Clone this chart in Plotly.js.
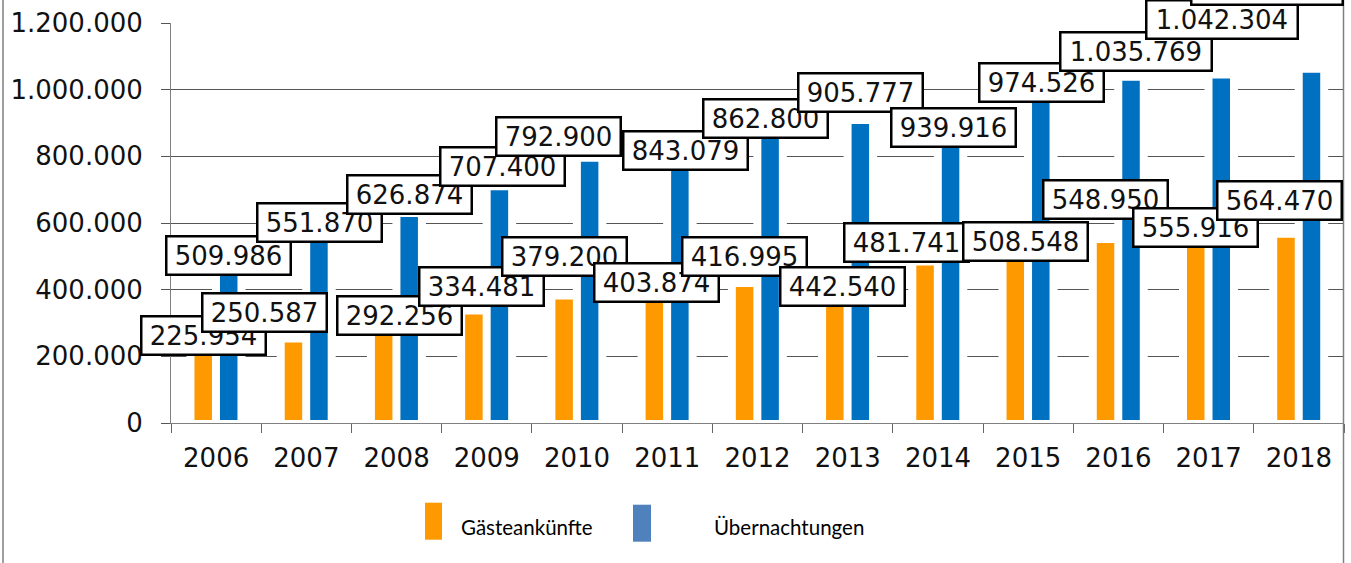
<!DOCTYPE html>
<html>
<head>
<meta charset="utf-8">
<script src="https://cdn.plot.ly/plotly-3.0.1.min.js"></script>
<style>
html,body{margin:0;padding:0;background:#fff;}
#chart{width:1351px;height:563px;}
</style>
</head>
<body>
<div id="chart"></div>
<script>
// ---- data ----
const years = ['2006','2007','2008','2009','2010','2011','2012','2013','2014','2015','2016','2017','2018'];
const gaeste = [225954, 250587, 292256, 334481, 379200, 403874, 416995, 442540, 481741, 508548, 548950, 555916, 564470];
const uebern = [509986, 551870, 626874, 707400, 792900, 843079, 862800, 905777, 939916, 974526, 1035769, 1042304, 1060000];
const yTicks = [0, 200000, 400000, 600000, 800000, 1000000, 1200000];
const seriesNames = ['Gästeankünfte', 'Übernachtungen'];

// ---- label placement (manually moved labels, in pixels) ----
const gShiftX = [-13.1, -42.3, 2.5, -5.7, -12.9, -10.6, -13.3, -5.5, -31.2, -2.4, -13.1, -13.3, -19];
const gShiftY = [12.5, 27.3, 10.4, 25.3, 40.4, 6.2, 27.8, -11.2, 20.2, 12.3, 40.3, 10.5, 34.6];
const uShiftX = [12.4, 12.7, 12.5, 15.3, -18.9, 17.9, 7.7, 12.5, 15.3, 13.1, 17.9, 13.7, -32];
const uShiftY = [-2.2, 16.8, 19.8, 21, 22, -8.7, 17.2, 28.4, -17.5, 15.5, 26, 56, 84.5];

const ORANGE = '#FF9900', BLUE = '#0070C0', LEG_BLUE = '#4F81BD';
const fmt = v => String(v).replace(/\B(?=(\d{3})+(?!\d))/g, '.');

const catPx = 1173 / 13;
const rectW = (17.5 + 6) / catPx;    // bar incl. white edge line
const haloW = (17.5 + 16) / catPx;   // white gap around bars
const gCenter = -12.9 / catPx, uCenter = 12.6 / catPx;

const traces = [
  {type:'bar', x:years, y:gaeste, width:haloW, offset:gCenter-haloW/2,
   marker:{color:'#ffffff'}, hoverinfo:'skip', showlegend:false},
  {type:'bar', x:years, y:uebern, width:haloW, offset:uCenter-haloW/2,
   marker:{color:'#ffffff'}, hoverinfo:'skip', showlegend:false},
  {type:'bar', name:seriesNames[0], x:years, y:gaeste, width:rectW, offset:gCenter-rectW/2,
   marker:{color:ORANGE, line:{color:'#ffffff', width:6}}, showlegend:false},
  {type:'bar', name:seriesNames[1], x:years, y:uebern, width:rectW, offset:uCenter-rectW/2,
   marker:{color:BLUE, line:{color:'#ffffff', width:6}}, showlegend:false}
];

const annFont = {family:'DejaVu Sans, Verdana, sans-serif', size:26, color:'#111111'};
function labelAnn(idx, v, dx, dy){
  const t = fmt(v);
  return {x:idx, y:v, xref:'x', yref:'y', text:t, showarrow:false,
    xanchor:'center', yanchor:'middle', xshift:dx, yshift:dy,
    width: t.length > 7 ? 145 : 118, height:32, borderpad:2,
    bgcolor:'#ffffff', bordercolor:'#000000', borderwidth:2.5, font:annFont};
}
const annotations = [];
years.forEach((yr,i)=>annotations.push(labelAnn(i, gaeste[i], gShiftX[i], gShiftY[i])));
years.forEach((yr,i)=>annotations.push(labelAnn(i, uebern[i], uShiftX[i], uShiftY[i])));

// custom legend
const px2x = p => (p - 171) / 1173;
const px2y = p => (423.3 - p) / 400;
const legFont = {family:'Lato, Noto Sans, sans-serif', size:20.5, color:'#000000'};
annotations.push({xref:'paper', yref:'paper', x:px2x(459), y:px2y(527), xanchor:'left', yanchor:'middle',
  text:seriesNames[0], showarrow:false, font:legFont});
annotations.push({xref:'paper', yref:'paper', x:px2x(712), y:px2y(527), xanchor:'left', yanchor:'middle',
  text:seriesNames[1], showarrow:false, font:legFont});

const shapes = [
  {type:'rect', xref:'paper', yref:'paper', x0:px2x(425), x1:px2x(442), y0:px2y(540), y1:px2y(503),
   fillcolor:ORANGE, line:{width:0}},
  {type:'rect', xref:'paper', yref:'paper', x0:px2x(633), x1:px2x(651), y0:px2y(542), y1:px2y(505),
   fillcolor:LEG_BLUE, line:{width:0}},
  {type:'line', xref:'paper', yref:'paper', x0:px2x(3), x1:px2x(3), y0:-0.5, y1:1.2,
   line:{color:'#7f7f7f', width:1.5}},
  {type:'line', xref:'paper', yref:'paper', x0:px2x(1343.5), x1:px2x(1343.5), y0:-0.5, y1:1.2,
   line:{color:'#7f7f7f', width:1.5}}
];

const tickFont = {family:'DejaVu Sans, Verdana, sans-serif', size:26, color:'#111111'};
const layout = {
  width:1351, height:563,
  margin:{l:171, r:7, t:23, b:140, pad:0},
  paper_bgcolor:'#ffffff', plot_bgcolor:'#ffffff',
  separators:',.',
  barmode:'overlay',
  showlegend:false,
  xaxis:{type:'category', range:[-0.5, 12.5], autorange:false, tickson:'boundaries', ticks:'outside', ticklen:9, tickcolor:'#666666',
    showline:true, linecolor:'#808080', linewidth:1, showgrid:false, zeroline:false,
    tickangle:0, tickfont:tickFont, ticklabelstandoff:12, fixedrange:true},
  yaxis:{range:[0,1200000], autorange:false, tickmode:'array', tickvals:yTicks, tickformat:',d',
    ticks:'outside', ticklen:9, tickcolor:'#555555',
    showline:true, linecolor:'#808080', linewidth:1,
    showgrid:true, gridcolor:'#555555', gridwidth:1, zeroline:false,
    tickfont:tickFont, ticklabelstandoff:13, fixedrange:true},
  annotations:annotations,
  shapes:shapes
};

Plotly.newPlot('chart', traces, layout, {displayModeBar:false, staticPlot:true});
</script>
</body>
</html>
